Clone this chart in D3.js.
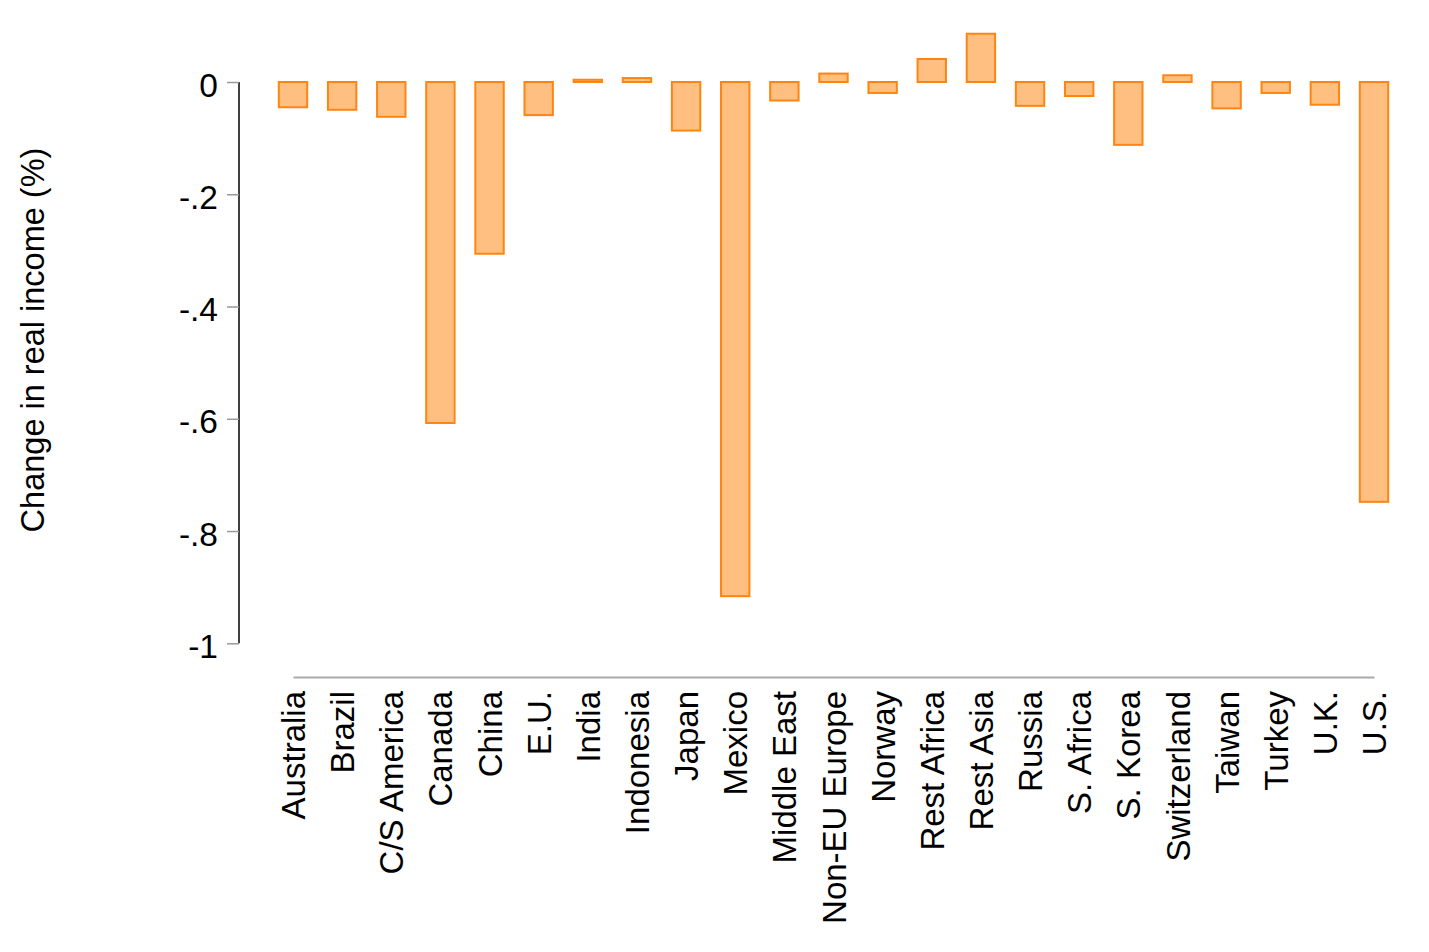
<!DOCTYPE html>
<html><head><meta charset="utf-8">
<script src="https://cdn.jsdelivr.net/npm/d3@7"></script>
<style>body{margin:0;background:#fff}svg{display:block}text{font-family:"Liberation Sans",Arial,Helvetica,sans-serif}</style>
</head><body>
<svg id="c" width="1429" height="952"></svg>
<script>
const categories = ["Australia","Brazil","C/S America","Canada","China","E.U.","India","Indonesia","Japan","Mexico","Middle East","Non-EU Europe","Norway","Rest Africa","Rest Asia","Russia","S. Africa","S. Korea","Switzerland","Taiwan","Turkey","U.K.","U.S."];
const values = [-0.045,-0.0495,-0.062,-0.6075,-0.306,-0.059,0.004,0.007,-0.0865,-0.916,-0.033,0.015,-0.0195,0.041,0.086,-0.0425,-0.025,-0.112,0.012,-0.047,-0.0195,-0.0405,-0.748];
const yTicks = [0,-0.2,-0.4,-0.6,-0.8,-1];
const yTickLabels = ["0","-.2","-.4","-.6","-.8","-1"];

const svg = d3.select("#c");
const y = d3.scaleLinear().domain([-1,0]).range([643.3,82]);
const x = d3.scalePoint().domain(categories).range([293,1374]);
const bw = 28.4;

// bars
svg.append("g").selectAll("rect").data(categories).join("rect")
  .attr("x", d => x(d) - bw/2)
  .attr("y", (d,i) => Math.min(y(values[i]), y(0)))
  .attr("width", bw)
  .attr("height", (d,i) => Math.max(Math.abs(y(values[i]) - y(0)), 0.5))
  .attr("fill", "#ffbf80")
  .attr("stroke", "#ff8513")
  .attr("stroke-width", 2);

// y axis
const ya = svg.append("g").attr("transform","translate(239,0)")
  .call(d3.axisLeft(y).tickValues(yTicks).tickSize(12).tickPadding(9).tickFormat((d,i)=>yTickLabels[i]));
ya.select(".domain").attr("stroke","#000").attr("stroke-width",1.5).attr("d","M0,82V643.3");
ya.selectAll(".tick line").attr("stroke","#999").attr("stroke-width",1.5);
ya.selectAll(".tick text").attr("font-size",33.5).attr("fill","#000").attr("dy","0.42em")
  .attr("font-family","'Liberation Sans',Arial,sans-serif");

// x axis
const xa = svg.append("g").attr("transform","translate(0,677)")
  .call(d3.axisBottom(x).tickSize(0).tickPadding(0));
xa.select(".domain").attr("stroke","#aaa").attr("stroke-width",2);
xa.selectAll(".tick text")
  .attr("font-size",33).attr("fill","#000")
  .attr("font-family","'Liberation Sans',Arial,sans-serif")
  .attr("text-anchor","end")
  .attr("transform","translate(0,14) rotate(-90)")
  .attr("x",0).attr("y",0).attr("dy","0.35em");

// y label
svg.append("text")
  .attr("transform","translate(33,340) rotate(-90)")
  .attr("text-anchor","middle").attr("dy","0.35em")
  .attr("font-size",32.5).attr("fill","#000")
  .text("Change in real income (%)");
</script>
</body></html>
